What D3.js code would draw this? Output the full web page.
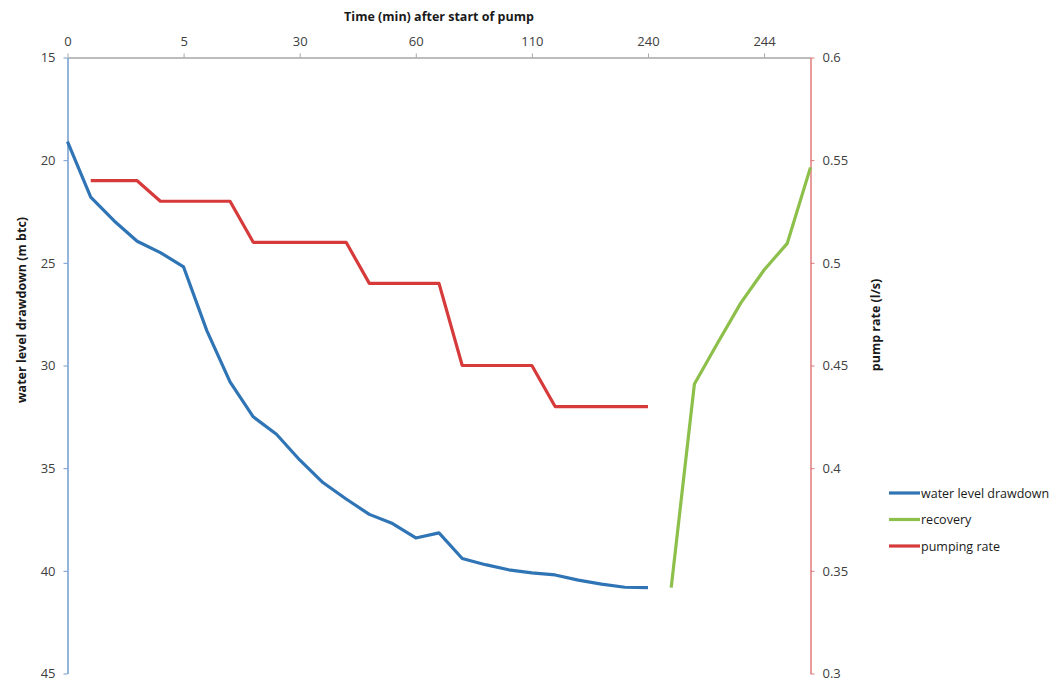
<!DOCTYPE html>
<html>
<head>
<meta charset="utf-8">
<script src="https://cdn.jsdelivr.net/npm/d3@7"></script>
<style>
  html, body { margin: 0; padding: 0; background: #fff; }
  svg { display: block; font-family: "Open Sans", "Noto Sans", sans-serif; }
</style>
</head>
<body>
<svg id="chart" width="1057" height="681"></svg>
<script>
// ---- data ----
const categoryIndex = d3.range(33);            // 33 time readings on a category axis
const tickIndex = [0, 5, 10, 15, 20, 25, 30];  // labelled categories
const tickLabels = ["0", "5", "30", "60", "110", "240", "244"];

// water level drawdown (m btc), readings 0..25
const drawdown = [19.1, 21.8, 22.95, 23.95, 24.5, 25.2, 28.3, 30.8, 32.5, 33.35,
                  34.6, 35.7, 36.5, 37.25, 37.7, 38.4, 38.15, 39.4, 39.7, 39.95,
                  40.1, 40.2, 40.45, 40.65, 40.8, 40.82];
// recovery (m btc), readings 26..32
const recovery = [40.82, 30.9, 28.9, 26.95, 25.35, 24.05, 20.35];
// pumping rate (l/s), readings 1..25
const pumpRate = [0.54, 0.54, 0.54, 0.53, 0.53, 0.53, 0.53, 0.51, 0.51, 0.51,
                  0.51, 0.51, 0.49, 0.49, 0.49, 0.49, 0.45, 0.45, 0.45, 0.45,
                  0.43, 0.43, 0.43, 0.43, 0.43];

const leftTicks = [15, 20, 25, 30, 35, 40, 45];
const rightTicks = [0.3, 0.35, 0.4, 0.45, 0.5, 0.55, 0.6];

const seriesNames = ["water level drawdown", "recovery", "pumping rate"];
const seriesColors = ["#2f74b5", "#8dbf4b", "#d63a3a"];

// ---- layout ----
const svg = d3.select("#chart");
const pL = 67.5, pR = 810.5, pT = 57.5, pB = 673.5;

const x = d3.scalePoint().domain(categoryIndex).range([pL, pR]);
const yL = d3.scaleLinear().domain([15, 45]).range([pT, pB]);
const yR = d3.scaleLinear().domain([0.3, 0.6]).range([pB, pT]);

// top category axis
const gx = svg.append("g").attr("transform", `translate(0,${pT})`)
  .call(d3.axisTop(x).tickValues(tickIndex)
        .tickFormat((d, i) => tickLabels[i]).tickSize(4).tickSizeOuter(0).tickPadding(8));
gx.select(".domain").attr("stroke", "#a6a6a6").attr("stroke-width", 1.5);
gx.selectAll(".tick line").attr("stroke", "#a6a6a6");
gx.selectAll(".tick text").attr("font-size", 13).attr("fill", "#404040")
  .attr("font-family", "Open Sans, sans-serif");

// left axis
const gl = svg.append("g").attr("transform", `translate(${pL},0)`)
  .call(d3.axisLeft(yL).tickValues(leftTicks).tickSize(4).tickSizeOuter(0).tickPadding(8));
gl.select(".domain").attr("stroke", "#6f9ccf").attr("stroke-width", 1.5);
gl.selectAll(".tick line").attr("stroke", "#6f9ccf");
gl.selectAll(".tick text").attr("font-size", 13).attr("fill", "#404040")
  .attr("font-family", "Open Sans, sans-serif");

// right axis
const gr = svg.append("g").attr("transform", `translate(${pR},0)`)
  .call(d3.axisRight(yR).tickValues(rightTicks).tickFormat(d3.format("~g"))
        .tickSize(4).tickSizeOuter(0).tickPadding(8));
gr.select(".domain").attr("stroke", "#e07b7b").attr("stroke-width", 1.5);
gr.selectAll(".tick line").attr("stroke", "#e07b7b");
gr.selectAll(".tick text").attr("font-size", 13).attr("fill", "#404040")
  .attr("font-family", "Open Sans, sans-serif");

// axis titles
svg.append("text").attr("x", (pL + pR) / 2).attr("y", 21)
  .attr("text-anchor", "middle").attr("font-size", 12.5).attr("font-weight", "bold")
  .attr("fill", "#1a1a1a").text("Time (min) after start of pump");
svg.append("text").attr("transform", "translate(26,310) rotate(-90)")
  .attr("text-anchor", "middle").attr("font-size", 12.5).attr("font-weight", "bold")
  .attr("fill", "#1a1a1a").text("water level drawdown (m btc)");
svg.append("text").attr("transform", "translate(880,325) rotate(-90)")
  .attr("text-anchor", "middle").attr("font-size", 12.5).attr("font-weight", "bold")
  .attr("fill", "#1a1a1a").text("pump rate (l/s)");

// lines
const lineL = d3.line().x(d => x(d[0])).y(d => yL(d[1]));
const lineR = d3.line().x(d => x(d[0])).y(d => yR(d[1]));

svg.append("path").datum(drawdown.map((v, i) => [i, v]))
  .attr("d", lineL).attr("fill", "none").attr("stroke", seriesColors[0])
  .attr("stroke-width", 3.2).attr("stroke-linejoin", "round");
svg.append("path").datum(recovery.map((v, i) => [i + 26, v]))
  .attr("d", lineL).attr("fill", "none").attr("stroke", seriesColors[1])
  .attr("stroke-width", 3.2).attr("stroke-linejoin", "round");
svg.append("path").datum(pumpRate.map((v, i) => [i + 1, v]))
  .attr("d", lineR).attr("fill", "none").attr("stroke", seriesColors[2])
  .attr("stroke-width", 3.2).attr("stroke-linejoin", "round");

// legend
const legend = svg.append("g").attr("transform", "translate(889,493)");
seriesNames.forEach((name, i) => {
  const g = legend.append("g").attr("transform", `translate(0,${i * 26.5})`);
  g.append("line").attr("x1", 0).attr("x2", 31).attr("y1", 0).attr("y2", 0)
    .attr("stroke", seriesColors[i]).attr("stroke-width", 3.2);
  g.append("text").attr("x", 32).attr("y", 4.5).attr("font-size", 12.5)
    .attr("fill", "#1a1a1a").text(name);
});
</script>
</body>
</html>
